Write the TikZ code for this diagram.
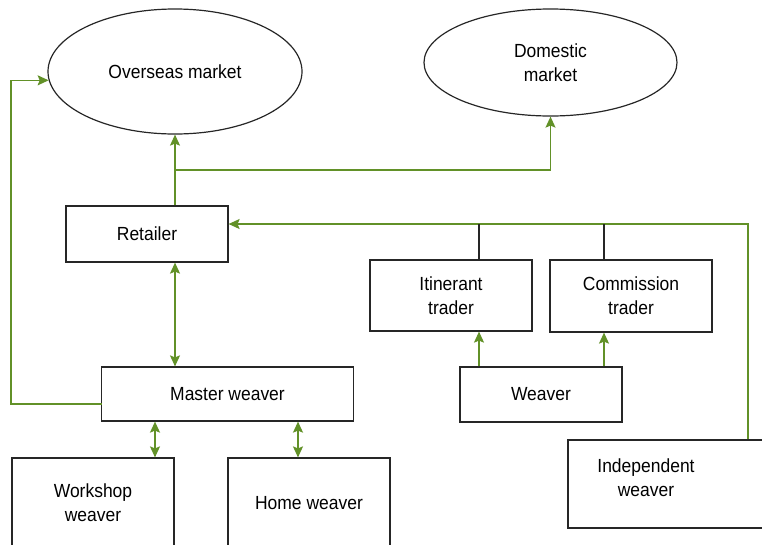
\documentclass[tikz,border=0pt]{standalone}
\usepackage{fontspec}
\setmainfont{Liberation Sans}[FakeStretch=0.92]
\usetikzlibrary{shapes.geometric,arrows.meta}
\definecolor{grn}{RGB}{98,145,40}
\begin{document}
\begin{tikzpicture}[x=1pt,y=-1pt,
  every node/.style={font=\fontsize{19}{24}\selectfont, align=center, inner sep=0pt},
  box/.style={draw=black!85, line width=1.2pt, rectangle},
  oval/.style={draw=black!85, line width=1.2pt, ellipse},
  g/.style={draw=grn, line width=1.5pt},
  tipx/.style={-{Stealth[length=11pt,width=10pt,inset=2pt]}},
  tipb/.style={{Stealth[length=11pt,width=10pt,inset=2pt]}-{Stealth[length=11pt,width=10pt,inset=2pt]}},
  blk/.style={draw=black!85, line width=1.2pt}]
\useasboundingbox (0,0) rectangle (762,544);
\clip (0,0) rectangle (762,544);
% nodes
\node[oval, minimum width=254pt, minimum height=125pt] (over) at (175,71.5) {Overseas market};
\node[oval, minimum width=253pt, minimum height=107pt] (dom) at (550.5,62.5) {Domestic\\market};
\node[box, minimum width=162pt, minimum height=56pt] (ret) at (147,234) {Retailer};
\node[box, minimum width=162pt, minimum height=71pt] (itin) at (451,295.5) {Itinerant\\trader};
\node[box, minimum width=162pt, minimum height=72pt] (comm) at (631,296) {Commission\\trader};
\node[box, minimum width=162pt, minimum height=55pt] (weav) at (541,394.5) {Weaver};
\node[box, minimum width=252pt, minimum height=54pt] (master) at (227.5,394) {Master weaver};
\node[box, minimum width=162pt, minimum height=90pt] (work) at (93,503) {Workshop\\weaver};
\node[box, minimum width=162pt, minimum height=90pt] (home) at (309,503) {Home weaver};
\node[box, minimum width=300pt, minimum height=88pt] (indep) at (718,484) {};
\node (indeptext) at (646,478) {Independent\\weaver};
% coordinates
\coordinate (br) at (175,170);
\coordinate (rx) at (748,224);
\coordinate (ix) at (479,224);
\coordinate (cx) at (604,224);
\coordinate (ml) at (101.5,404);
\coordinate (lx) at (11,404);
% connectors
\draw[g,tipx] (over.south |- ret.north) -- (over.south);
\draw[g,tipx] (br) -| (dom.south);
\draw[g,tipx] (indep.north -| rx) -- (rx) -- (ret.east |- rx);
\draw[blk] (itin.north -| ix) -- (ix);
\draw[blk] (comm.north -| cx) -- (cx);
\draw[g,tipx] (weav.north -| ix) -- (itin.south -| ix);
\draw[g,tipx] (weav.north -| cx) -- (comm.south -| cx);
\draw[g,tipb] (ret.south -| over.south) -- (master.north -| over.south);
\coordinate (wx) at (155,0);
\coordinate (hx) at (298,0);
\draw[g,tipb] (master.south -| wx) -- (work.north -| wx);
\draw[g,tipb] (master.south -| hx) -- (home.north -| hx);
\draw[g,tipx] (ml) -- (lx) |- (over.184);
\end{tikzpicture}
\end{document}
